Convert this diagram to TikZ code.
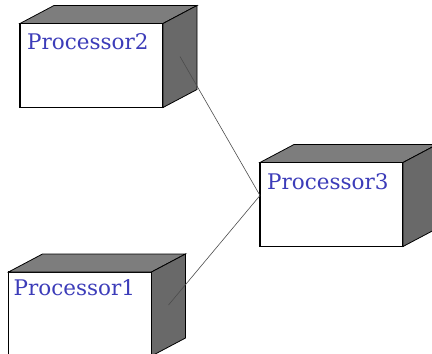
\documentclass[tikz,border=0pt]{standalone}
\usepackage{fontspec}
\newfontfamily\procfont{DejaVu Serif}
\definecolor{proctext}{RGB}{60,60,185}
\definecolor{proctop}{RGB}{125,125,125}
\definecolor{procsidecol}{RGB}{105,105,105}
\begin{document}
\begin{tikzpicture}[x=1pt,y=-1pt,
  procface/.style={draw=black,line width=1.4pt,fill=white,minimum width=143pt,minimum height=84pt,inner sep=0pt,outer sep=0pt},
  proclabel/.style={anchor=north west,inner sep=0pt,text=proctext,font=\procfont\fontsize{21.5}{24}\selectfont},
  proctopface/.style={draw=black,line width=0.8pt,fill=proctop},
  procsideface/.style={draw=black,line width=0.8pt,fill=procsidecol},
  link/.style={draw=black!70,line width=0.6pt}]
\clip (0,0) rectangle (432,354);

% Processor2
\node[procface] (p2) at (91.5,65.5) {};
\draw[proctopface] (p2.north west) -- ++(34,-18) -- ++(143,0) -- (p2.north east) -- cycle;
\draw[procsideface] (p2.north east) -- ++(34,-18) -- ++(0,84) -- (p2.south east) -- cycle;
\node[proclabel] (p2text) at ([shift={(7,10)}]p2.north west) {Processor2};
\coordinate (p2link) at ([shift={(17,-9)}]p2.east);

% Processor3
\node[procface] (p3) at (331.5,204.5) {};
\draw[proctopface] (p3.north west) -- ++(34,-18) -- ++(143,0) -- (p3.north east) -- cycle;
\draw[procsideface] (p3.north east) -- ++(34,-18) -- ++(0,84) -- (p3.south east) -- cycle;
\node[proclabel] (p3text) at ([shift={(7,11)}]p3.north west) {Processor3};
\coordinate (p3link) at ([yshift=9pt]p3.west);

% Processor1
\node[procface] (p1) at (80,314) {};
\draw[proctopface] (p1.north west) -- ++(34,-18) -- ++(143,0) -- (p1.north east) -- cycle;
\draw[procsideface] (p1.north east) -- ++(34,-18) -- ++(0,84) -- (p1.south east) -- cycle;
\node[proclabel] (p1text) at ([shift={(5,7)}]p1.north west) {Processor1};
\coordinate (p1link) at ([shift={(17,-9)}]p1.east);

% links
\draw[link] (p2link) -- (p3link);
\draw[link] (p1link) -- (p3link);

\end{tikzpicture}
\end{document}
